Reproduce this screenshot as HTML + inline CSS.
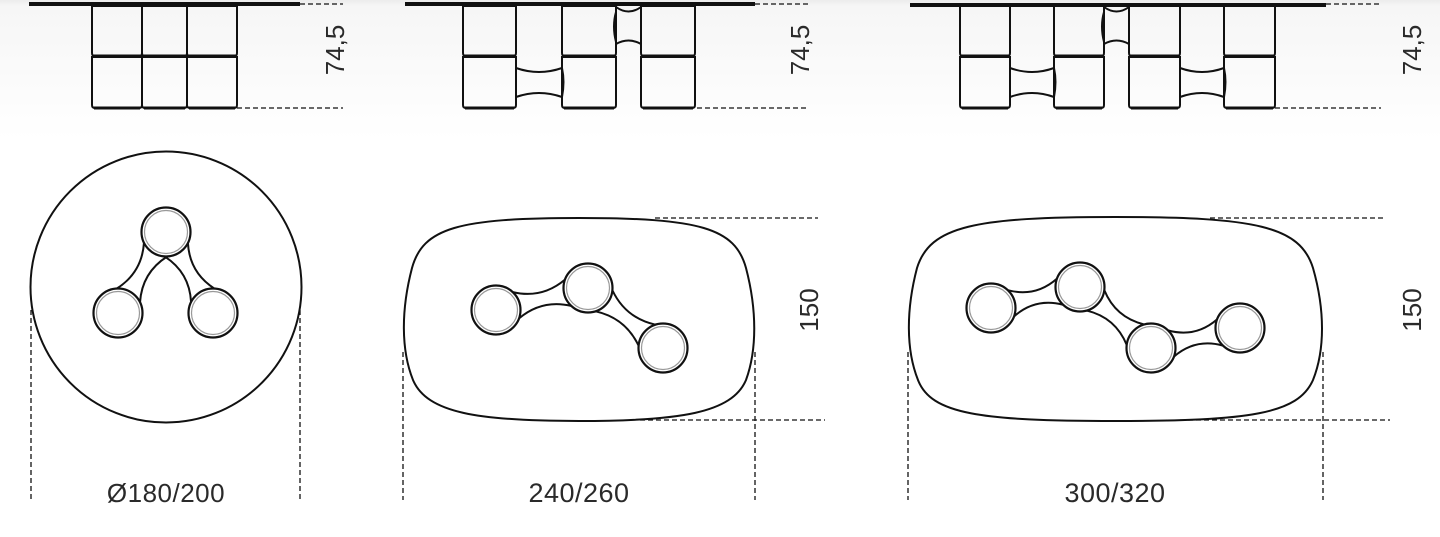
<!DOCTYPE html>
<html><head><meta charset="utf-8"><style>
html,body{margin:0;padding:0}
body{width:1440px;height:537px;overflow:hidden;background:linear-gradient(#ececec 0px,#f6f6f6 6px,#fdfdfd 110px,#fff 140px)}
svg{position:absolute;left:0;top:0}
text{font-family:"Liberation Sans",sans-serif;fill:#2a2a2a}
</style></head><body>
<svg id="s" width="1440" height="537" viewBox="0 0 1440 537" xmlns="http://www.w3.org/2000/svg">
<g fill="none" stroke="#111" stroke-width="2" id="g">
<!-- top lines -->
<line x1="29" y1="4" x2="300" y2="4" stroke-width="4"/>
<line x1="405" y1="4" x2="755" y2="4" stroke-width="4"/>
<line x1="910" y1="5" x2="1326" y2="5" stroke-width="4"/>
<g stroke-dasharray="5,3" stroke-width="1.3">
<line x1="300" y1="4" x2="343" y2="4"/><line x1="237" y1="108" x2="343" y2="108"/>
<line x1="755" y1="4" x2="808" y2="4"/><line x1="697" y1="108" x2="808" y2="108"/>
<line x1="1326" y1="4" x2="1380" y2="4"/><line x1="1275" y1="108" x2="1381" y2="108"/>
<line x1="31" y1="310" x2="31" y2="500"/><line x1="300" y1="310" x2="300" y2="500"/>
<line x1="403" y1="352" x2="403" y2="500"/><line x1="755" y1="352" x2="755" y2="500"/>
<line x1="908" y1="352" x2="908" y2="500"/><line x1="1323" y1="352" x2="1323" y2="500"/>
<line x1="655" y1="218" x2="818" y2="218"/><line x1="640" y1="420" x2="825" y2="420"/>
<line x1="1210" y1="218" x2="1384" y2="218"/><line x1="1180" y1="420" x2="1390" y2="420"/>
</g>
<circle cx="166" cy="287" r="135.5"/>
<path d="M579 218 C700 218 735 228 746 268 C757 310 757 350 746 380 C732 413 680 421 579 421 C478 421 427 413 413 380 C401 350 401 310 412 268 C423 228 458 218 579 218 Z"/>
<path d="M1115 217 C1255 217 1300 226 1313 268 C1325 310 1325 350 1313 380 C1298 414 1250 421 1115 421 C980 421 931 414 918 380 C906 350 906 310 917 268 C930 226 975 217 1115 217 Z"/>
</g>
<text x="166" y="502" font-size="26" text-anchor="middle" letter-spacing="0.5">Ø180/200</text>
<text x="579" y="502" font-size="27" text-anchor="middle" letter-spacing="0.5">240/260</text>
<text x="1115" y="502" font-size="27" text-anchor="middle" letter-spacing="0.5">300/320</text>
<text transform="translate(344,50) rotate(-90)" font-size="26" text-anchor="middle">74,5</text>
<text transform="translate(809,50) rotate(-90)" font-size="26" text-anchor="middle">74,5</text>
<text transform="translate(1421,50) rotate(-90)" font-size="26" text-anchor="middle">74,5</text>
<text transform="translate(818,310) rotate(-90)" font-size="26" text-anchor="middle">150</text>
<text transform="translate(1421,310) rotate(-90)" font-size="26" text-anchor="middle">150</text>
</svg>
<script>
var g=document.getElementById('g'),NS='http://www.w3.org/2000/svg';
function el(t,a){var e=document.createElementNS(NS,t);for(var k in a)e.setAttribute(k,a[k]);g.appendChild(e);return e;}
function box(x1,y1,x2,y2){
 el('path',{d:'M'+x1+' '+y1+' V'+(y2-3)+' Q'+x1+' '+y2+' '+(x1+3)+' '+y2+' H'+(x2-3)+' Q'+x2+' '+y2+' '+x2+' '+(y2-3)+' V'+y1+' H'+x1+' Z'});
 el('line',{x1:x1+2,y1:y2,x2:x2-2,y2:y2,'stroke-width':3});
}
function tower(x1,x2){box(x1,6,x2,56);box(x1,57,x2,108);}
function lowc(a,b){
 el('path',{d:'M'+a+' 68 Q'+((a+b)/2)+' 76 '+b+' 68'});
 el('path',{d:'M'+a+' 97 Q'+((a+b)/2)+' 89 '+b+' 97'});
 el('path',{d:'M'+b+' 68 Q'+(b+3)+' 82 '+b+' 97'});
}
function upc(a,b){
 el('path',{d:'M'+a+' 7 Q'+((a+b)/2)+' 16 '+b+' 7'});
 el('path',{d:'M'+a+' 44 Q'+((a+b)/2)+' 37 '+b+' 44'});
 el('path',{d:'M'+a+' 12 Q'+(a-4)+' 26 '+a+' 42'});
}
[[92,142],[142,187],[187,237]].forEach(function(p){tower(p[0],p[1]);});
[[463,516],[562,616],[641,695]].forEach(function(p){tower(p[0],p[1]);});
lowc(516,562);upc(616,641);
[[960,1010],[1054,1104],[1129,1180],[1224,1275]].forEach(function(p){tower(p[0],p[1]);});
lowc(1010,1054);lowc(1180,1224);upc(1104,1129);
function conn(ax,ay,bx,by,r){
 var dx=bx-ax,dy=by-ay,L=Math.hypot(dx,dy),ux=dx/L,uy=dy/L,nx=-uy,ny=ux,w=r*0.55,s=Math.sqrt(r*r-w*w);
 [1,-1].forEach(function(sg){
  var x1=ax+ux*s+nx*w*sg,y1=ay+uy*s+ny*w*sg,x2=bx-ux*s+nx*w*sg,y2=by-uy*s+ny*w*sg;
  var mx=(ax+bx)/2,my=(ay+by)/2;
  el('path',{d:'M'+x1+' '+y1+' Q'+mx+' '+my+' '+x2+' '+y2});
 });
}
function hub(x,y){
 el('circle',{cx:x,cy:y,r:24.5,fill:'#fff','stroke-width':2.2});
 el('circle',{cx:x,cy:y,r:21.5,stroke:'#999','stroke-width':1.2});
}
function chain(pts){
 for(var i=0;i<pts.length-1;i++)conn(pts[i][0],pts[i][1],pts[i+1][0],pts[i+1][1],24.5);
 pts.forEach(function(p){hub(p[0],p[1]);});
}
conn(166,232,118,313,24.5);conn(166,232,213,313,24.5);
hub(166,232);hub(118,313);hub(213,313);
chain([[496,310],[588,288],[663,348]]);
chain([[991,308],[1080,287],[1151,348],[1240,328]]);
</script>
</body></html>
